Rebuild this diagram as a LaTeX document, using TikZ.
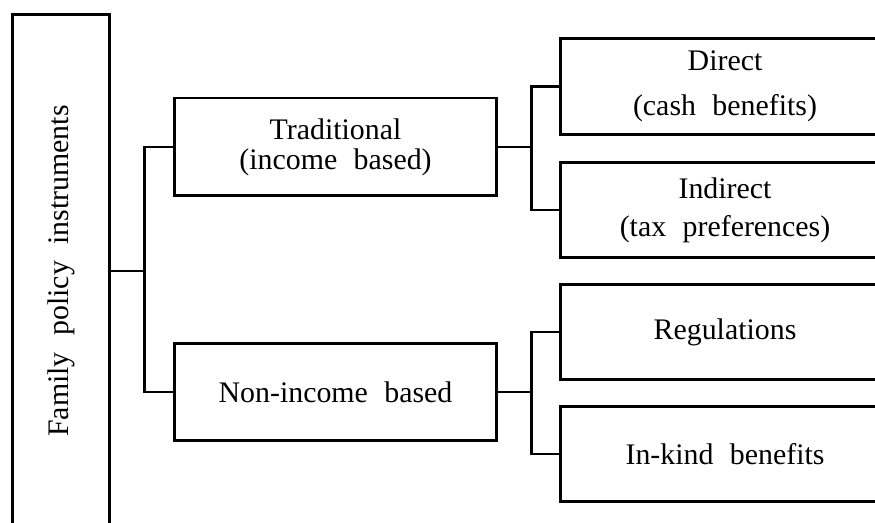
\documentclass[tikz,border=0pt]{standalone}
\usepackage{fontspec}
\usepackage{graphicx}
\setmainfont{Liberation Serif}
\usetikzlibrary{calc}
\newcommand\widespace{\spaceskip=0.55em\relax}

\begin{document}
\begin{tikzpicture}[x=0.02cm,y=-0.02cm,
    box/.style={draw,line width=1.7pt,inner sep=0pt,align=center,
        font=\fontsize{17}{19.5}\selectfont\widespace},
    mid/.style={box,minimum width=6.46cm,minimum height=1.96cm},
    leaf/.style={box,minimum width=6.6cm,minimum height=1.92cm},
    link/.style={line width=1.7pt}]
    \useasboundingbox (0,0) rectangle (875,523);
    \node[box,rotate=90,minimum width=10.28cm,minimum height=1.96cm] (fam)
        at(61,271){Family policy instruments};
    \node[mid] (trad) at(335.5,147){Traditional\\[-2.5pt](income based)};
    \node[mid] (non) at(335.5,392){Non-income based};
    \node[leaf] (dir) at(725,86.5){Direct\\[6pt](cash benefits)};
    \node[leaf] (ind) at(725,210){Indirect\\[2pt](tax preferences)};
    \node[leaf] (reg) at(725,332){Regulations};
    \node[leaf] (kind) at(725,454){In-kind benefits};
    \draw[link] (fam.south)--++(33,0)coordinate(j1);
    \draw[link] (trad.west)-|(j1)|-(non.west);
    \draw[link] (trad.east)--++(33,0)coordinate(j2);
    \draw[link] (dir.west)-|(j2)|-(ind.west);
    \draw[link] (non.east)--++(33,0)coordinate(j3);
    \draw[link] (reg.west)-|(j3)|-(kind.west);
\end{tikzpicture}
\end{document}
